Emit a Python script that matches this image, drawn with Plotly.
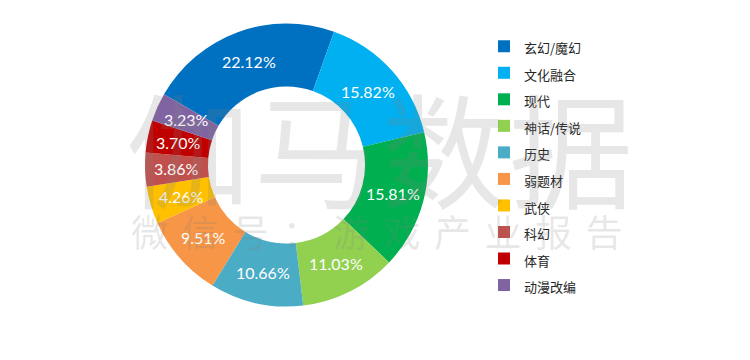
import math
import plotly.graph_objects as go

categories = ["玄幻/魔幻", "文化融合", "现代", "神话/传说", "历史", "弱题材", "武侠", "科幻", "体育", "动漫改编"]
shares = [22.12, 15.82, 15.81, 11.03, 10.66, 9.51, 4.26, 3.86, 3.70, 3.23]
colors = ["#0070C0", "#00B0F0", "#00B050", "#92D050", "#4BACC6",
          "#F79646", "#FFC000", "#C0504D", "#C00000", "#8064A2"]

W, H = 750, 360
cx, cy, R = 286.5, 165, 141.5
HOLE = 0.555
ROT = -60

legend_labels = ['<span style="font-size:13px">%s</span>' % c for c in categories]

fig = go.Figure(go.Pie(
    labels=legend_labels,
    values=shares,
    sort=False,
    direction="clockwise",
    rotation=ROT,
    hole=HOLE,
    marker=dict(colors=colors, line=dict(width=0)),
    textinfo="none",
    hoverinfo="skip",
    domain=dict(x=[(cx - R) / W, (cx + R) / W], y=[(H - cy - R) / H, (H - cy + R) / H]),
))

# value labels at the middle of the ring, derived from the data
total = sum(shares)
r_mid = R * (1 + HOLE) / 2
cum = 0.0
for v in shares:
    ang = math.radians(ROT + (cum + v / 2) / total * 360)
    px = cx + r_mid * math.sin(ang)
    py = cy - r_mid * math.cos(ang)
    fig.add_annotation(x=px / W, y=1 - py / H, xref="paper", yref="paper",
                       text="%.2f%%" % v, showarrow=False,
                       font=dict(family="Lato, Open Sans, sans-serif", size=16, color="white"),
                       xanchor="center", yanchor="middle")
    cum += v

wm_color = "rgba(128,128,128,0.19)"
fig.add_annotation(x=381.5 / W, y=1 - 145 / H, xref="paper", yref="paper",
                   text='<span style="letter-spacing:3.7px">伽马数据</span>', showarrow=False,
                   font=dict(family="Noto Sans CJK SC", size=124, color=wm_color),
                   xanchor="center", yanchor="middle")
fig.add_annotation(x=383 / W, y=1 - 231 / H, xref="paper", yref="paper",
                   text='<span style="letter-spacing:13.5px">微信号：游戏产业报告</span>', showarrow=False,
                   font=dict(family="Noto Sans CJK SC", size=37, color=wm_color),
                   xanchor="center", yanchor="middle")

fig.update_layout(
    width=W, height=H,
    margin=dict(l=0, r=0, t=0, b=0),
    paper_bgcolor="white",
    plot_bgcolor="white",
    legend=dict(
        x=484 / W, y=1 - 28 / H, xanchor="left", yanchor="top",
        font=dict(family="Noto Sans CJK SC, Noto Sans, sans-serif", size=18.1, color="#262626"),
        traceorder="normal", bgcolor="rgba(0,0,0,0)",
    ),
    showlegend=True,
)

fig.write_html("out.html", config={"displayModeBar": False},
               post_script="document.body.style.margin='0';")
